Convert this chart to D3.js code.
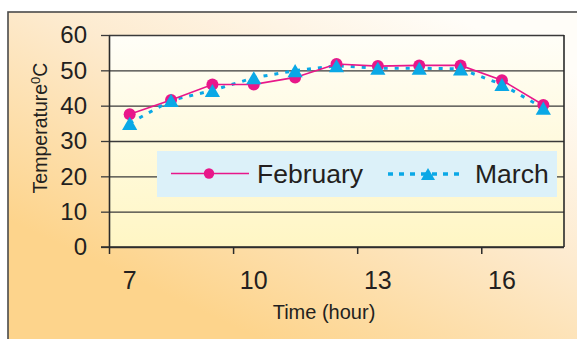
<!DOCTYPE html>
<html>
<head>
<meta charset="utf-8">
<script src="https://cdn.jsdelivr.net/npm/d3@7"></script>
<style>
  html, body { margin: 0; padding: 0; background: #ffffff; }
  svg { display: block; font-family: "Liberation Sans", Arial, Helvetica, sans-serif; }
</style>
</head>
<body>
<svg id="chart" width="577" height="339"></svg>
<script>
// Hourly readings
const hours = [7, 8, 9, 10, 11, 12, 13, 14, 15, 16, 17];
const february = [37.6, 41.6, 46.0, 46.0, 48.0, 51.8, 51.2, 51.4, 51.4, 47.2, 40.2];
const march = [35.0, 41.5, 44.3, 47.9, 49.9, 51.3, 50.6, 50.6, 50.4, 46.0, 39.3];
const yTicks = [0, 10, 20, 30, 40, 50, 60];
const xLabelHours = [7, 10, 13, 16];
const seriesNames = ["February", "March"];

const pink = "#e8178a";
const cyan = "#0aa8e6";

const svg = d3.select("#chart");
const defs = svg.append("defs");

// outer panel gradient: pale at the top right, warm orange towards the bottom
const bg = defs.append("linearGradient").attr("id", "panelBg")
  .attr("gradientUnits", "userSpaceOnUse")
  .attr("x1", 420).attr("y1", 0).attr("x2", 260).attr("y2", 339);
bg.append("stop").attr("offset", 0).attr("stop-color", "#fffdf8");
bg.append("stop").attr("offset", 0.45).attr("stop-color", "#fdebd0");
bg.append("stop").attr("offset", 1).attr("stop-color", "#fdd48c");

// plot area gradient: near white at the top, light yellow at the bottom
const pg = defs.append("linearGradient").attr("id", "plotBg")
  .attr("x1", 0).attr("y1", 0).attr("x2", 0).attr("y2", 1);
pg.append("stop").attr("offset", 0).attr("stop-color", "#fffef8");
pg.append("stop").attr("offset", 1).attr("stop-color", "#fff6c4");

svg.append("rect")
  .attr("x", 8).attr("y", 12).attr("width", 620).attr("height", 360)
  .attr("fill", "url(#panelBg)")
  .attr("stroke", "#4a4a4a").attr("stroke-width", 1.6);

const plotLeft = 109, plotRight = 564, plotTop = 35, plotBottom = 247;

const x = d3.scaleBand().domain(hours).range([plotLeft, plotRight]).padding(0);
const xEdge = d3.scaleLinear().domain([7, 18]).range([plotLeft, plotRight]);
const y = d3.scaleLinear().domain([0, 60]).range([plotBottom, plotTop]);

svg.append("rect")
  .attr("x", plotLeft).attr("y", plotTop)
  .attr("width", plotRight - plotLeft).attr("height", plotBottom - plotTop)
  .attr("fill", "url(#plotBg)");

// horizontal grid lines
svg.append("g")
  .attr("transform", `translate(${plotLeft},0)`)
  .call(d3.axisLeft(y).tickValues(yTicks).tickSize(-(plotRight - plotLeft)).tickFormat(""))
  .call(g => g.select(".domain").remove())
  .call(g => g.selectAll(".tick line").attr("stroke", "#3a3a3a").attr("stroke-width", 1.3));

// y axis with outward ticks and labels
svg.append("g")
  .attr("transform", `translate(${plotLeft},0)`)
  .call(d3.axisLeft(y).tickValues(yTicks).tickSize(8).tickSizeOuter(0).tickPadding(14))
  .call(g => g.select(".domain").attr("stroke", "#2a2a2a").attr("stroke-width", 1.6))
  .call(g => g.selectAll(".tick line").attr("stroke", "#3a3a3a").attr("stroke-width", 1.3))
  .call(g => g.selectAll("text").attr("font-size", 24).attr("fill", "#231f20")
    .attr("font-family", "Liberation Sans, Arial, sans-serif"));

// right border of the plot area
svg.append("line")
  .attr("x1", plotRight).attr("x2", plotRight).attr("y1", plotTop).attr("y2", plotBottom)
  .attr("stroke", "#2a2a2a").attr("stroke-width", 1.6);

// x tick marks sit on category boundaries
svg.append("g")
  .attr("transform", `translate(0,${plotBottom})`)
  .call(d3.axisBottom(xEdge).tickValues(xLabelHours).tickSize(7).tickSizeOuter(0).tickFormat(""))
  .call(g => g.select(".domain").remove())
  .call(g => g.selectAll(".tick line").attr("stroke", "#2a2a2a").attr("stroke-width", 1.5));

// x labels centred on their categories
svg.append("g")
  .attr("transform", `translate(0,${plotBottom})`)
  .call(d3.axisBottom(x).tickValues(xLabelHours).tickSize(0).tickPadding(24))
  .call(g => g.select(".domain").remove())
  .call(g => g.selectAll("text").attr("font-size", 25).attr("fill", "#231f20")
    .attr("font-family", "Liberation Sans, Arial, sans-serif"));

// baseline at zero with a short outward stub
svg.append("line")
  .attr("x1", plotLeft - 8).attr("x2", plotRight).attr("y1", y(0)).attr("y2", y(0))
  .attr("stroke", "#2a2a2a").attr("stroke-width", 1.6);

// axis titles
svg.append("text")
  .attr("x", 324).attr("y", 319)
  .attr("text-anchor", "middle")
  .attr("font-size", 20).attr("fill", "#231f20")
  .text("Time (hour)");

const yTitle = svg.append("text")
  .attr("transform", "translate(46.5,128) rotate(-90)")
  .attr("text-anchor", "middle")
  .attr("font-size", 19.5).attr("fill", "#231f20");
yTitle.append("tspan").text("Temperature");
yTitle.append("tspan").attr("dy", -7).attr("font-size", 13).text("0");
yTitle.append("tspan").attr("dy", 7).text("C");

// legend box
const legend = svg.append("g");
legend.append("rect")
  .attr("x", 157).attr("y", 151).attr("width", 400).attr("height", 46)
  .attr("fill", "#dcf1f9");

const cx = h => x(h) + x.bandwidth() / 2;

// March dashed line
svg.append("path")
  .datum(march)
  .attr("fill", "none")
  .attr("stroke", cyan).attr("stroke-width", 3)
  .attr("stroke-dasharray", "4,7")
  .attr("d", d3.line().x((d, i) => cx(hours[i])).y(d => y(d)));

// February solid line
svg.append("path")
  .datum(february)
  .attr("fill", "none")
  .attr("stroke", pink).attr("stroke-width", 1.6)
  .attr("d", d3.line().x((d, i) => cx(hours[i])).y(d => y(d)));

svg.append("g").selectAll("circle")
  .data(february).join("circle")
  .attr("cx", (d, i) => cx(hours[i])).attr("cy", d => y(d))
  .attr("r", 6).attr("fill", pink);

// triangles anchored on their bounding-box centre rather than the centroid
const triSize = 100;
const triHeight = Math.sqrt(triSize * 4 / Math.sqrt(3)) * Math.sqrt(3) / 2;
const tri = d3.symbol().type(d3.symbolTriangle).size(triSize);
svg.append("g").selectAll("path")
  .data(march).join("path")
  .attr("transform", (d, i) => `translate(${cx(hours[i])},${y(d) + triHeight / 6})`)
  .attr("d", tri).attr("fill", cyan);

// legend entries
legend.append("line")
  .attr("x1", 171).attr("x2", 249).attr("y1", 173.5).attr("y2", 173.5)
  .attr("stroke", pink).attr("stroke-width", 1.6);
legend.append("circle").attr("cx", 209).attr("cy", 173.5).attr("r", 5.2).attr("fill", pink);
legend.append("text").attr("x", 257).attr("y", 183)
  .attr("font-size", 26.5).attr("fill", "#231f20").text(seriesNames[0]);

legend.append("line")
  .attr("x1", 388).attr("x2", 463).attr("y1", 174).attr("y2", 174)
  .attr("stroke", cyan).attr("stroke-width", 3.5).attr("stroke-dasharray", "5,6");
legend.append("path")
  .attr("transform", "translate(428,176)")
  .attr("d", d3.symbol().type(d3.symbolTriangle).size(85)).attr("fill", cyan);
legend.append("text").attr("x", 475).attr("y", 183)
  .attr("font-size", 26.5).attr("fill", "#231f20").text(seriesNames[1]);
</script>
</body>
</html>
